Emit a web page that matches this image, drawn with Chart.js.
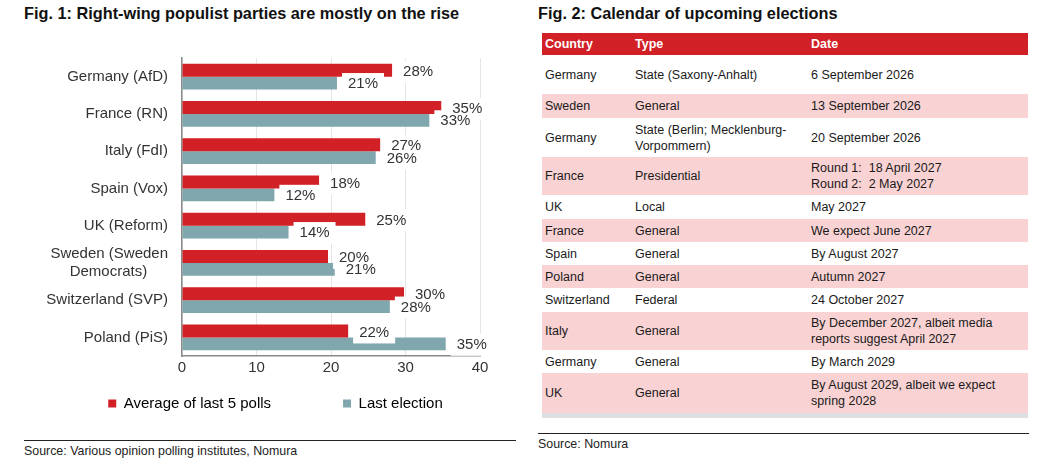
<!DOCTYPE html>
<html>
<head>
<meta charset="utf-8">
<script src="https://cdn.jsdelivr.net/npm/chart.js@4.4.1/dist/chart.umd.min.js"></script>
<style>
  body { margin: 0; background: #fff; font-family: Arial, "Liberation Sans", sans-serif; color: #1a1a1a; }
  .title { position: absolute; font-weight: bold; font-size: 16.3px; color: #111; white-space: nowrap; }
  .source { position: absolute; font-size: 12.4px; color: #222; }
  .rule { position: absolute; height: 0; border-top: 1.3px solid #222; }
  #chartBox { position: absolute; left: 24px; top: 42px; width: 503px; height: 385px; }
  #calendar { position: absolute; left: 542px; top: 33px; width: 486px; border-collapse: collapse; font-size: 12.5px; }
  #calendar th { background: #d12026; color: #fff; text-align: left; font-weight: bold; padding: 0 3px; height: 22px; }
  #calendar td { padding: 0 3px; white-space: pre; line-height: 16px; vertical-align: middle; }
  #calendar tr.pink td { background: #f9d2d3; }
  #calendar tr.strip td { background: #dde0e3; height: 5px; padding: 0; }
</style>
</head>
<body>

<div class="title" style="left:24px; top:4px;">Fig. 1: Right-wing populist parties are mostly on the rise</div>
<div id="chartBox"><canvas id="pollChart"></canvas></div>
<div class="rule" style="left:24px; top:440px; width:492px;"></div>
<div class="source" style="left:24px; top:444px;">Source: Various opinion polling institutes, Nomura</div>

<div class="title" style="left:538px; top:4px;">Fig. 2: Calendar of upcoming elections</div>
<table id="calendar"></table>
<div class="rule" style="left:538px; top:433px; width:491px;"></div>
<div class="source" style="left:538px; top:437px;">Source: Nomura</div>

<script>
// Fig. 1 data
const parties = ['Germany (AfD)', 'France (RN)', 'Italy (FdI)', 'Spain (Vox)', 'UK (Reform)',
  ['Sweden (Sweden', 'Democrats)\u00a0\u00a0\u00a0\u00a0\u00a0'], 'Switzerland (SVP)', 'Poland (PiS)'];
const pollAverage = [28.2, 34.8, 26.6, 18.4, 24.6, 19.6, 29.8, 22.3];
const lastElection = [20.8, 33.2, 26.0, 12.4, 14.3, 20.5, 27.9, 35.4];
const xTicks = [0, 10, 20, 30, 40];

// Fig. 2 data
const calHeader = ['Country', 'Type', 'Date'];
const calCountry = ['Germany', 'Sweden', 'Germany', 'France', 'UK', 'France', 'Spain', 'Poland',
  'Switzerland', 'Italy', 'Germany', 'UK'];
const calType = ['State (Saxony-Anhalt)', 'General', 'State (Berlin; Mecklenburg-\nVorpommern)',
  'Presidential', 'Local', 'General', 'General', 'General', 'Federal', 'General', 'General', 'General'];
const calDate = ['6 September 2026', '13 September 2026', '20 September 2026',
  'Round 1:  18 April 2027\nRound 2:  2 May 2027', 'May 2027', 'We expect June 2027',
  'By August 2027', 'Autumn 2027', '24 October 2027',
  'By December 2027, albeit media\nreports suggest April 2027', 'By March 2029',
  'By August 2029, albeit we expect\nspring 2028'];
const calRowHeights = [39, 24, 39, 38, 24, 23, 23, 23, 24, 38, 23, 40];

// build the table
const table = document.getElementById('calendar');
let html = '<colgroup><col style="width:90px"><col style="width:176px"><col style="width:220px"></colgroup>';
html += '<tr>' + calHeader.map(h => '<th>' + h + '</th>').join('') + '</tr>';
calCountry.forEach((c, i) => {
  html += '<tr class="' + (i % 2 ? 'pink' : '') + '" style="height:' + calRowHeights[i] + 'px">' +
    '<td>' + c + '</td><td>' + calType[i] + '</td><td>' + calDate[i] + '</td></tr>';
});
html += '<tr class="strip"><td></td><td></td><td></td></tr>';
table.innerHTML = html;

// value labels with white boxes, drawn over the bars (boxes first, then text)
const valueLabels = {
  id: 'valueLabels',
  afterDatasetsDraw(chart) {
    const ctx = chart.ctx;
    ctx.save();
    ctx.font = '15px Arial, "Liberation Sans", sans-serif';
    ctx.textBaseline = 'middle';
    const items = [];
    chart.data.datasets.forEach((ds, di) => {
      const dy = di === 0 ? 1.5 : 1;
      chart.getDatasetMeta(di).data.forEach((bar, i) => {
        const txt = Math.round(ds.data[i]) + '%';
        items.push({ txt, x: bar.x, y: bar.y + dy, w: ctx.measureText(txt).width });
      });
    });
    ctx.fillStyle = '#fff';
    items.forEach(it => ctx.fillRect(it.x + 5, it.y - 11, it.w + 12, 22));
    ctx.fillStyle = '#333';
    items.forEach(it => ctx.fillText(it.txt, it.x + 11, it.y));
    ctx.restore();
  }
};

const sp = '\u2003\u2003\u2003\u2003';

new Chart(document.getElementById('pollChart'), {
  type: 'bar',
  data: {
    labels: parties,
    datasets: [{
      label: 'Average of last 5 polls',
      data: pollAverage,
      backgroundColor: '#d12026',
      categoryPercentage: 0.69,
      barPercentage: 1
    }, {
      label: 'Last election',
      data: lastElection,
      backgroundColor: '#7fa7ad',
      categoryPercentage: 0.69,
      barPercentage: 1
    }]
  },
  options: {
    indexAxis: 'y',
    responsive: true,
    maintainAspectRatio: false,
    animation: false,
    layout: { padding: { top: 16, right: 0, bottom: 6, left: 0 } },
    scales: {
      x: {
        min: 0,
        max: 40,
        afterBuildTicks: axis => { axis.ticks = xTicks.map(v => ({ value: v })); },
        afterFit: axis => { axis.paddingRight = 47; axis.height += 4; },
        ticks: { color: '#333', font: { size: 15, family: 'Arial' }, padding: 3 },
        grid: { color: '#e4e4e4', tickLength: 0 },
        border: { color: '#8a8a8a', width: 1.5 }
      },
      y: {
        afterFit: axis => { axis.width = 158; axis.paddingTop = 0; axis.paddingBottom = 0; },
        ticks: { color: '#333', font: { size: 15, family: 'Arial' }, padding: 6, autoSkip: false },
        grid: { display: false },
        border: { color: '#8a8a8a', width: 1.5 }
      }
    },
    plugins: {
      legend: {
        position: 'bottom',
        labels: {
          boxWidth: 8,
          boxHeight: 8,
          padding: 12,
          color: '#333',
          font: { size: 15, family: 'Arial' },
          generateLabels(chart) {
            return chart.data.datasets.map((ds, i) => ({
              text: i === 0 ? ds.label + sp : ds.label,
              fillStyle: ds.backgroundColor,
              strokeStyle: ds.backgroundColor,
              lineWidth: 0,
              datasetIndex: i
            }));
          }
        }
      },
      tooltip: { enabled: false }
    }
  },
  plugins: [valueLabels]
});
</script>
</body>
</html>
